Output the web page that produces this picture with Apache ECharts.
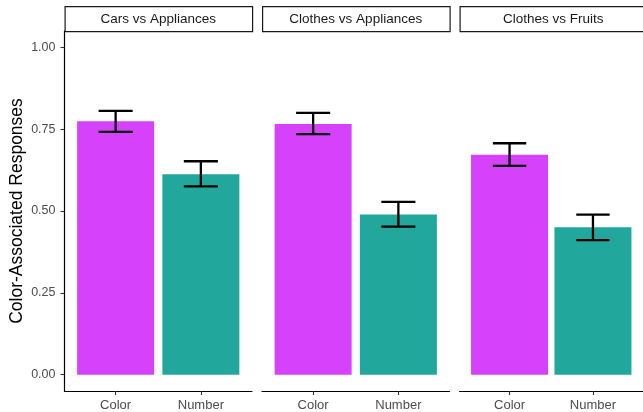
<!DOCTYPE html>
<html>
<head>
<meta charset="utf-8">
<script src="https://cdn.jsdelivr.net/npm/echarts@6/dist/echarts.min.js"></script>
<style>html,body{margin:0;padding:0;background:#fff;}#c{width:643px;height:412px;}</style>
</head>
<body>
<div id="c"></div>
<script>
// ---- data ----
var categories = ['Color', 'Number'];
var panels = ['Cars vs Appliances', 'Clothes vs Appliances', 'Clothes vs Fruits'];
var carsApplMean = [0.774, 0.612];
var carsApplLow = [0.742, 0.575];
var carsApplHigh = [0.806, 0.652];
var clothesApplMean = [0.766, 0.489];
var clothesApplLow = [0.735, 0.452];
var clothesApplHigh = [0.800, 0.528];
var clothesFruitMean = [0.672, 0.450];
var clothesFruitLow = [0.638, 0.411];
var clothesFruitHigh = [0.707, 0.489];
var yTicks = [0, 0.25, 0.5, 0.75, 1.0];
var xPos = [1, 2];

var means = [carsApplMean, clothesApplMean, clothesFruitMean];
var lows = [carsApplLow, clothesApplLow, clothesFruitLow];
var highs = [carsApplHigh, clothesApplHigh, clothesFruitHigh];

var barColors = ['#D641FB', '#21A79B'];
var FONT = 'Liberation Sans, Arial, Helvetica, sans-serif';

var gridLefts = [64.5, 262, 459.5];
var gridW = 187.5;
var grids = [], xAxes = [], yAxes = [], series = [], graphics = [];

for (var i = 0; i < 3; i++) {
  grids.push({ left: gridLefts[i], width: gridW, top: 31, bottom: 21, containLabel: false });
  xAxes.push({
    type: 'value', gridIndex: i, min: 0.4, max: 2.6,
    axisLine: { show: true, onZero: false, lineStyle: { color: '#000', width: 1.2 } },
    axisTick: { show: true, customValues: xPos, length: 4, lineStyle: { color: '#333', width: 1.1 } },
    axisLabel: {
      show: true, customValues: xPos, margin: 8, color: '#4D4D4D', fontSize: 13, fontFamily: FONT,
      formatter: function (v) { return categories[Math.round(v) - 1]; }
    },
    splitLine: { show: false }
  });
  var y = {
    type: 'value', gridIndex: i, min: -0.05, max: 1.05,
    splitLine: { show: false }
  };
  if (i === 0) {
    y.axisLine = { show: true, onZero: false, lineStyle: { color: '#000', width: 1.2 } };
    y.axisTick = { show: true, customValues: yTicks, length: 4, lineStyle: { color: '#333', width: 1.1 } };
    y.axisLabel = {
      show: true, customValues: yTicks, margin: 9, color: '#4D4D4D', fontSize: 12.5, fontFamily: FONT,
      formatter: function (v) { return v.toFixed(2); }
    };
    y.name = 'Color-Associated Responses';
    y.nameLocation = 'middle';
    y.nameRotate = 90;
    y.nameGap = 38;
    y.nameTextStyle = { color: '#000', fontSize: 17.5, fontFamily: FONT };
  } else {
    y.axisLine = { show: false };
    y.axisTick = { show: false };
    y.axisLabel = { show: false };
  }
  yAxes.push(y);

  var barData = [], errData = [];
  for (var k = 0; k < categories.length; k++) {
    barData.push({ value: [xPos[k], means[i][k]], itemStyle: { color: barColors[k] } });
    errData.push([xPos[k], lows[i][k], highs[i][k]]);
  }
  series.push({
    type: 'bar', xAxisIndex: i, yAxisIndex: i, barWidth: 77, data: barData, silent: true
  });
  series.push({
    type: 'custom', xAxisIndex: i, yAxisIndex: i, data: errData, silent: true, z: 5,
    renderItem: function (params, api) {
      var x = api.value(0);
      var lo = api.coord([x, api.value(1)]);
      var hi = api.coord([x, api.value(2)]);
      var half = api.size([0.4, 0])[0] / 2;
      var st = { stroke: '#000', lineWidth: 2.3 };
      return {
        type: 'group', children: [
          { type: 'line', shape: { x1: lo[0], y1: lo[1], x2: hi[0], y2: hi[1] }, style: st },
          { type: 'line', shape: { x1: hi[0] - half, y1: hi[1], x2: hi[0] + half, y2: hi[1] }, style: st },
          { type: 'line', shape: { x1: lo[0] - half, y1: lo[1], x2: lo[0] + half, y2: lo[1] }, style: st }
        ]
      };
    }
  });

  graphics.push({
    type: 'rect', left: gridLefts[i], top: 6,
    shape: { width: gridW, height: 25 },
    style: { fill: '#fff', stroke: '#1a1a1a', lineWidth: 1.2 }
  });
  graphics.push({
    type: 'text', x: gridLefts[i] + gridW / 2, y: 19,
    style: { text: panels[i], fill: '#1A1A1A', fontSize: 13.5, fontFamily: FONT, align: 'center', verticalAlign: 'middle' }
  });
}

var chart = echarts.init(document.getElementById('c'), null, { renderer: 'canvas' });
chart.setOption({
  animation: false,
  backgroundColor: '#fff',
  grid: grids, xAxis: xAxes, yAxis: yAxes, series: series, graphic: graphics
});
</script>
</body>
</html>
